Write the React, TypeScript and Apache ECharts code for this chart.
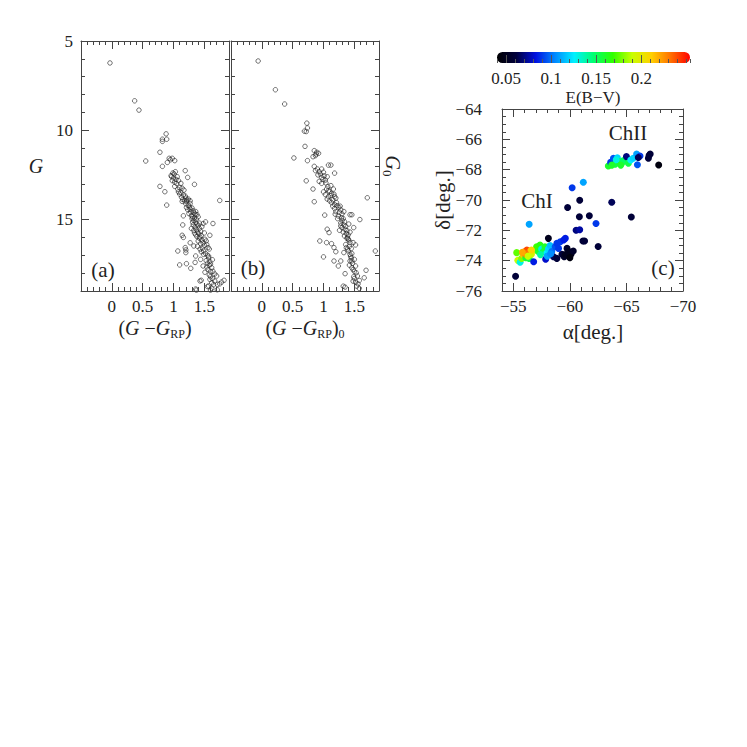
import React, { useEffect, useRef } from 'react';
import * as echarts from 'echarts';

// Panel (a): observed CMD  [G - G_RP, G]
const cmdObserved: number[][] = [
  [-0.03, 6.23], [0.37, 8.35], [0.44, 8.87], [0.88, 10.2], [0.82, 10.5], [0.89, 10.5], [0.82, 10.62],
  [0.55, 11.72], [0.78, 11.23], [0.93, 11.57], [0.98, 11.57], [0.9, 11.8], [1.02, 11.7], [0.82, 12.02], [0.95, 11.65],
  [1.03, 12.32], [0.99, 12.39], [0.96, 12.54], [1.0, 12.67], [0.98, 12.82], [1.19, 12.26], [1.08, 12.82], [1.12, 12.97],
  [1.23, 12.64], [1.34, 13.03], [1.01, 12.45], [0.97, 12.6], [1.04, 12.75], [1.06, 12.6], [1.02, 12.9], [1.05, 12.98],
  [0.78, 13.14], [1.02, 13.14], [1.07, 13.3], [1.14, 13.24], [1.17, 13.35], [0.86, 13.44], [1.1, 13.57], [1.15, 13.87],
  [1.18, 13.95], [1.22, 13.91], [1.27, 13.95], [1.75, 13.93], [1.08, 13.45], [1.12, 13.5], [1.16, 13.62], [1.13, 13.75],
  [1.2, 13.8], [1.1, 13.2], [1.19, 13.68], [1.24, 13.85], [1.14, 13.98], [1.21, 13.97],
  [0.89, 14.19], [1.21, 14.32], [1.27, 14.42], [1.32, 14.51], [1.35, 14.7], [1.29, 14.79], [1.37, 14.98], [1.16, 14.79],
  [1.24, 14.2], [1.26, 14.3], [1.3, 14.35], [1.23, 14.45], [1.28, 14.58], [1.33, 14.62], [1.25, 14.66], [1.31, 14.85],
  [1.34, 14.9], [1.27, 14.1], [1.2, 14.12], [1.36, 14.55], [1.3, 14.95], [1.4, 14.85], [1.38, 14.72],
  [1.52, 15.13], [1.48, 15.22], [1.64, 15.22], [1.15, 15.3], [1.14, 15.88], [1.16, 16.0], [1.59, 15.88], [1.33, 15.05],
  [1.36, 15.15], [1.38, 15.25], [1.32, 15.3], [1.4, 15.35], [1.35, 15.42], [1.42, 15.5], [1.37, 15.55], [1.33, 15.6],
  [1.44, 15.65], [1.39, 15.7], [1.41, 15.8], [1.36, 15.85], [1.45, 15.9], [1.38, 15.95], [1.5, 15.75], [1.42, 15.2],
  [1.29, 15.5], [1.46, 15.4], [1.34, 15.75], [1.31, 15.15], [1.43, 15.98],
  [1.54, 16.4], [1.56, 16.57], [1.33, 16.48], [1.19, 16.57], [1.2, 16.7], [1.2, 16.85], [1.07, 16.76], [1.49, 16.76],
  [1.52, 16.9], [1.55, 17.0], [1.36, 17.04], [1.42, 16.05], [1.46, 16.15], [1.4, 16.2], [1.48, 16.3], [1.44, 16.35],
  [1.5, 16.45], [1.47, 16.6], [1.43, 16.65], [1.51, 16.1], [1.39, 16.5], [1.53, 16.2], [1.45, 16.8], [1.49, 16.95],
  [1.27, 16.3], [1.58, 16.65],
  [1.44, 17.23], [1.1, 17.54], [1.21, 17.47], [1.28, 17.73], [1.6, 17.5], [1.62, 17.7], [1.6, 17.9], [1.57, 17.15],
  [1.53, 17.3], [1.55, 17.45], [1.58, 17.55], [1.54, 17.65], [1.56, 17.8], [1.59, 17.35], [1.48, 17.6], [1.35, 17.4],
  [1.64, 17.9], [1.51, 17.95], [1.57, 17.05], [1.63, 17.25],
  [1.7, 18.16], [1.59, 18.35], [1.62, 18.54], [1.57, 18.72], [1.67, 18.44], [1.71, 18.63], [1.75, 18.6], [1.82, 18.4],
  [1.43, 18.44], [1.36, 18.89], [1.62, 18.85], [1.71, 18.93], [1.6, 18.2], [1.58, 18.1], [1.63, 18.3], [1.65, 18.65],
  [1.6, 18.95], [1.45, 18.4], [1.55, 18.75], [1.67, 18.05], [1.78, 18.5], [1.37, 18.95],
];

// Panel (b): dereddened CMD  [(G - G_RP)_0, G_0]
const cmdDereddened: number[][] = [
  [-0.06, 6.12], [0.22, 7.73], [0.37, 8.53], [0.73, 9.6], [0.74, 9.87], [0.69, 10.05], [0.72, 10.07], [0.7, 10.9],
  [0.52, 11.55], [0.74, 11.7], [0.85, 11.14], [0.89, 11.23], [0.92, 11.29], [0.88, 11.33], [0.83, 11.48], [0.87, 11.42],
  [0.85, 12.02], [1.08, 11.95], [1.12, 11.95], [1.18, 12.4], [0.87, 12.26], [0.9, 12.17], [0.93, 12.32], [0.97, 12.17],
  [0.72, 12.83], [0.97, 12.64], [1.01, 12.55], [1.03, 12.79], [1.06, 12.6], [0.93, 12.86], [0.97, 12.97], [0.95, 12.45],
  [1.0, 12.35], [0.91, 12.5], [1.04, 12.95], [0.99, 12.75],
  [0.83, 13.29], [1.05, 13.29], [1.08, 13.39], [1.1, 13.42], [1.13, 13.54], [1.16, 13.29], [0.85, 14.0], [1.71, 13.78],
  [1.03, 13.6], [1.08, 13.72], [1.12, 13.65], [1.17, 13.58], [1.2, 13.8], [1.06, 13.85], [1.1, 13.95], [1.15, 13.9],
  [1.07, 13.15], [1.12, 13.1], [1.0, 13.45], [1.18, 13.72],
  [1.02, 14.75], [1.59, 15.0], [1.43, 14.73], [1.46, 14.73], [1.13, 14.05], [1.18, 14.15], [1.22, 14.22], [1.25, 14.32],
  [1.18, 14.38], [1.28, 14.45], [1.2, 14.55], [1.26, 14.6], [1.3, 14.68], [1.24, 14.8], [1.29, 14.9], [1.32, 14.95],
  [1.15, 14.25], [1.21, 14.05], [1.27, 14.25], [1.33, 14.55], [1.23, 14.95], [1.19, 14.7],
  [1.06, 15.54], [1.09, 15.73], [1.49, 15.45], [1.3, 15.05], [1.34, 15.12], [1.28, 15.2], [1.33, 15.3], [1.36, 15.38],
  [1.3, 15.45], [1.35, 15.55], [1.38, 15.62], [1.32, 15.7], [1.37, 15.78], [1.4, 15.85], [1.34, 15.92], [1.28, 15.35],
  [1.41, 15.25], [1.26, 15.6], [1.39, 15.98], [1.43, 15.7],
  [0.94, 16.2], [1.05, 16.29], [1.13, 16.35], [1.17, 16.57], [1.2, 16.8], [1.43, 16.29], [1.48, 16.29], [1.52, 16.42],
  [1.84, 16.76], [1.37, 16.57], [1.4, 16.75], [1.43, 16.95], [1.46, 16.9], [1.38, 16.05], [1.41, 16.15], [1.36, 16.4],
  [1.42, 16.5], [1.39, 16.65], [1.45, 16.62], [1.33, 16.85], [1.4, 16.1],
  [1.0, 17.09], [1.17, 17.32], [1.28, 17.32], [1.24, 17.6], [1.43, 17.32], [1.46, 17.32], [1.5, 17.23], [1.46, 17.7],
  [1.48, 17.8], [1.5, 17.9], [1.69, 17.84], [1.35, 18.03], [1.44, 17.05], [1.47, 17.45], [1.42, 17.55], [1.52, 17.6],
  [1.45, 17.15],
  [1.53, 17.98], [1.55, 18.16], [1.66, 18.26], [1.58, 18.41], [1.32, 18.73], [1.35, 18.78], [1.54, 18.73], [1.5, 18.3],
  [1.52, 18.5], [1.56, 18.6], [1.49, 18.2], [1.58, 18.85], [1.48, 18.45],
];

// Panel (c): [alpha, delta, E(B-V)]
const cloudStars: number[][] = [
  // ChII
  [-63.4, -67.76, 0.16], [-63.6, -67.52, 0.09], [-63.85, -67.25, 0.095], [-64.0, -67.64, 0.155], [-64.2, -67.21, 0.12],
  [-64.35, -67.47, 0.16], [-64.58, -67.58, 0.155], [-64.73, -67.4, 0.15], [-65.0, -67.14, 0.07], [-65.17, -67.58, 0.155],
  [-65.38, -67.36, 0.125], [-65.6, -67.25, 0.12], [-65.9, -66.97, 0.11], [-65.97, -67.67, 0.095], [-66.2, -67.1, 0.09],
  [-66.05, -67.2, 0.065], [-67.0, -67.06, 0.06], [-67.1, -66.97, 0.06], [-66.94, -67.25, 0.06], [-67.85, -67.69, 0.045],
  [-64.1, -67.35, 0.13], [-64.5, -67.7, 0.16], [-63.7, -67.7, 0.16],
  // between the clouds
  [-61.19, -68.83, 0.11], [-60.2, -69.19, 0.09], [-63.7, -70.15, 0.065], [-60.87, -70.02, 0.06], [-59.8, -70.5, 0.06],
  [-60.84, -71.1, 0.06], [-61.72, -71.04, 0.06], [-62.31, -71.55, 0.09], [-60.55, -72.0, 0.07], [-60.87, -71.96, 0.075],
  [-61.15, -72.7, 0.06], [-61.3, -72.7, 0.06], [-62.5, -73.07, 0.06], [-65.43, -71.12, 0.06], [-56.4, -71.6, 0.11],
  [-55.2, -75.03, 0.06],
  // ChI
  [-55.3, -73.47, 0.175], [-55.4, -73.98, 0.19], [-55.6, -74.1, 0.13], [-55.74, -73.85, 0.18], [-55.9, -73.63, 0.215],
  [-56.03, -73.4, 0.225], [-56.2, -73.3, 0.24], [-56.33, -73.52, 0.22], [-56.5, -73.36, 0.225], [-56.1, -73.8, 0.16],
  [-56.4, -73.85, 0.155], [-56.6, -73.58, 0.195], [-56.8, -74.07, 0.085], [-56.9, -73.3, 0.2], [-57.06, -73.08, 0.17],
  [-57.2, -73.4, 0.16], [-57.36, -72.97, 0.165], [-57.5, -73.23, 0.13], [-57.65, -73.4, 0.155], [-57.8, -73.08, 0.16],
  [-57.95, -73.52, 0.125], [-57.86, -73.9, 0.08], [-58.1, -72.53, 0.05], [-58.1, -73.23, 0.12], [-58.25, -73.0, 0.115],
  [-58.4, -73.4, 0.1], [-58.55, -73.74, 0.065], [-58.7, -73.08, 0.095], [-58.85, -72.86, 0.09], [-59.0, -73.19, 0.09],
  [-59.15, -72.75, 0.09], [-59.3, -73.58, 0.06], [-59.45, -72.64, 0.085], [-59.6, -72.53, 0.085], [-59.75, -73.19, 0.055],
  [-59.9, -73.4, 0.05], [-60.1, -73.58, 0.05], [-59.5, -73.74, 0.055], [-58.85, -73.85, 0.06], [-60.3, -73.36, 0.055],
  [-56.0, -73.5, 0.235], [-56.15, -73.6, 0.23], [-55.8, -73.45, 0.22], [-56.6, -73.3, 0.21], [-56.3, -73.7, 0.19],
  [-57.4, -73.6, 0.14], [-58.0, -73.7, 0.11], [-58.3, -73.55, 0.105], [-59.6, -73.6, 0.05], [-60.0, -73.8, 0.045],
];

const ebvRange = [0.04, 0.254];
const ebvTicks = [0.05, 0.1, 0.15, 0.2];
const ebvColors = [
  '#000000', '#00003c', '#0010e0', '#0088ff', '#00f0ff', '#00ff70',
  '#30ff00', '#c8ff00', '#ffd000', '#ff7000', '#ff0000',
];

const FONT = '"Liberation Serif", "DejaVu Serif", serif';
const INK = '#222';
const FRAME = '#444';

type Box = { left: number; top: number; width: number; height: number };
const boxA: Box = { left: 81, top: 41, width: 148, height: 250 };
const boxB: Box = { left: 231, top: 41, width: 148, height: 250 };
const boxC: Box = { left: 502, top: 109, width: 181, height: 182 };
const boxBar: Box = { left: 497, top: 52, width: 193, height: 11 };

const minus = (v: number) => (v < 0 ? '\u2212' + String(Math.abs(v)) : String(v));

function axis(
  kind: 'x' | 'y', gridIndex: number, position: string, min: number, max: number, interval: number,
  inverse: boolean, tickLen: number, showLine: boolean, fmt?: (v: number) => string, margin?: number,
) {
  return {
    type: 'value', gridIndex, position, min, max, interval, inverse,
    axisLine: { show: showLine, onZero: false, lineStyle: { color: FRAME, width: 1 } },
    axisTick: { show: true, inside: true, length: tickLen, lineStyle: { color: FRAME, width: 1 } },
    axisLabel: fmt
      ? { show: true, formatter: fmt, margin: margin ?? 6, fontFamily: FONT, fontSize: 17, color: INK, hideOverlap: false }
      : { show: false },
    splitLine: { show: false },
    z: 10,
  };
}

function panel(
  gridIndex: number,
  xr: [number, number], xMinor: number, xMajor: number, xInv: boolean, xFmt: (v: number) => string,
  yr: [number, number], yMinor: number, yMajor: number, yInv: boolean, yFmt: ((v: number) => string) | undefined, yMargin: number,
) {
  const xs = [
    axis('x', gridIndex, 'bottom', xr[0], xr[1], xMinor, xInv, 4, true),
    axis('x', gridIndex, 'bottom', xr[0], xr[1], xMajor, xInv, 8, false, xFmt, 7),
    axis('x', gridIndex, 'top', xr[0], xr[1], xMinor, xInv, 4, true),
    axis('x', gridIndex, 'top', xr[0], xr[1], xMajor, xInv, 8, false),
  ];
  const ys = [
    axis('y', gridIndex, 'left', yr[0], yr[1], yMinor, yInv, 4, true),
    axis('y', gridIndex, 'left', yr[0], yr[1], yMajor, yInv, 8, false, yFmt, yMargin),
    axis('y', gridIndex, 'right', yr[0], yr[1], yMinor, yInv, 4, true),
    axis('y', gridIndex, 'right', yr[0], yr[1], yMajor, yInv, 8, false),
  ];
  return { xs, ys };
}

function txt(x: number, y: number, text: string, size: number, extra: any = {}, rotation = 0) {
  return {
    type: 'text', x, y, rotation, z: 20,
    style: {
      text, fontFamily: FONT, fontSize: size, fill: INK, align: 'center', verticalAlign: 'middle', ...extra,
    },
  };
}

export default function App() {
  const ref = useRef<HTMLDivElement>(null);
  useEffect(() => {
    if (!ref.current) return;
    const chart = echarts.init(ref.current, undefined, { renderer: 'svg' });

    const cmdX = (v: number) => (v === -0.5 || v === 1.9 ? '' : String(v));
    const cmdY = (v: number) => (v === 19 ? '' : String(v));
    const pA = panel(0, [-0.5, 1.9], 0.1, 0.5, false, cmdX, [5, 19], 1, 5, true, cmdY, 8);
    const pB = panel(1, [-0.5, 1.9], 0.1, 0.5, false, cmdX, [5, 19], 1, 5, true, undefined, 8);
    const pC = panel(2, [-70, -54], 1, 5, true, (v) => (v === -54 ? '' : minus(v)),
      [-76, -64], 0.5, 2, false, (v) => minus(v), 20);

    const barX = [
      {
        type: 'value', gridIndex: 3, position: 'bottom', min: ebvRange[0], max: ebvRange[1], interval: 0.01,
        axisLine: { show: false, onZero: false },
        axisTick: { show: true, inside: true, length: 4, lineStyle: { color: '#555', width: 1 } },
        axisLabel: { show: false }, splitLine: { show: false }, z: 10,
      },
      {
        type: 'value', gridIndex: 3, position: 'bottom', min: ebvRange[0], max: ebvRange[1],
        axisLine: { show: false, onZero: false },
        axisTick: { show: true, inside: true, length: 8, customValues: ebvTicks, lineStyle: { color: '#555', width: 1 } },
        axisLabel: {
          show: true, customValues: ebvTicks, formatter: (v: number) => String(v), margin: 7,
          fontFamily: FONT, fontSize: 17, color: INK,
        },
        splitLine: { show: false }, z: 10,
      },
    ];
    const barY = [{ type: 'value', gridIndex: 3, min: 0, max: 1, show: false }];

    const open = {
      symbol: 'circle', symbolSize: 4.5,
      itemStyle: { color: 'rgba(255,255,255,0)', borderColor: '#222', borderWidth: 0.8 },
    };

    const stops = ebvColors.map((c, i) => ({ offset: i / (ebvColors.length - 1), color: c }));

    chart.setOption({
      animation: false,
      backgroundColor: '#fff',
      grid: [
        { ...boxA, containLabel: false },
        { ...boxB, containLabel: false },
        { ...boxC, containLabel: false },
        { ...boxBar, containLabel: false },
      ],
      xAxis: [...pA.xs, ...pB.xs, ...pC.xs, ...barX],
      yAxis: [...pA.ys, ...pB.ys, ...pC.ys, ...barY],
      visualMap: {
        type: 'continuous', show: false, seriesIndex: 2, dimension: 2,
        min: ebvRange[0], max: ebvRange[1], inRange: { color: ebvColors },
      },
      series: [
        { type: 'scatter', xAxisIndex: 0, yAxisIndex: 0, data: cmdObserved, ...open, silent: true },
        { type: 'scatter', xAxisIndex: 4, yAxisIndex: 4, data: cmdDereddened, ...open, silent: true },
        {
          type: 'scatter', xAxisIndex: 8, yAxisIndex: 8, data: cloudStars, symbol: 'circle', symbolSize: 7,
          itemStyle: { opacity: 1 }, silent: true,
        },
      ],
      graphic: [
        {
          type: 'rect', z: 1,
          shape: { x: boxBar.left, y: boxBar.top, width: boxBar.width, height: boxBar.height, r: boxBar.height / 2 },
          style: { fill: new echarts.graphic.LinearGradient(0, 0, 1, 0, stops) },
        },
        txt(593, 97, 'E(B\u2212V)', 17),
        txt(36, 166, 'G', 20, { fontStyle: 'italic' }),
        txt(393, 166, '{i|G}{s|0}', 20, {
          rich: {
            i: { fontStyle: 'italic', fontFamily: FONT, fontSize: 20, fill: INK, lineHeight: 24, verticalAlign: 'middle' },
            s: { fontFamily: FONT, fontSize: 13, fill: INK, lineHeight: 13, verticalAlign: 'bottom' },
          },
        }, -Math.PI / 2),
        txt(155, 328, '({i|G} \u2212{i|G}{s|RP})', 20, {
          rich: {
            i: { fontStyle: 'italic', fontFamily: FONT, fontSize: 20, fill: INK, lineHeight: 24, verticalAlign: 'middle' },
            s: { fontFamily: FONT, fontSize: 12, fill: INK, lineHeight: 12, verticalAlign: 'bottom' },
          },
        }),
        txt(305, 328, '({i|G} \u2212{i|G}{s|RP}){s|0}', 20, {
          rich: {
            i: { fontStyle: 'italic', fontFamily: FONT, fontSize: 20, fill: INK, lineHeight: 24, verticalAlign: 'middle' },
            s: { fontFamily: FONT, fontSize: 12, fill: INK, lineHeight: 12, verticalAlign: 'bottom' },
          },
        }),
        txt(593, 332, '\u03b1[deg.]', 21),
        txt(443, 200, '\u03b4[deg.]', 21, {}, Math.PI / 2),
        txt(103, 270, '(a)', 21),
        txt(253, 268, '(b)', 21),
        txt(663, 268, '(c)', 21),
        txt(537, 201, 'ChI', 21),
        txt(628, 133, 'ChII', 21),
      ],
    });
    return () => chart.dispose();
  }, []);
  return <div ref={ref} style={{ position: 'absolute', left: 0, top: 0, width: 747, height: 747 }} />;
}
